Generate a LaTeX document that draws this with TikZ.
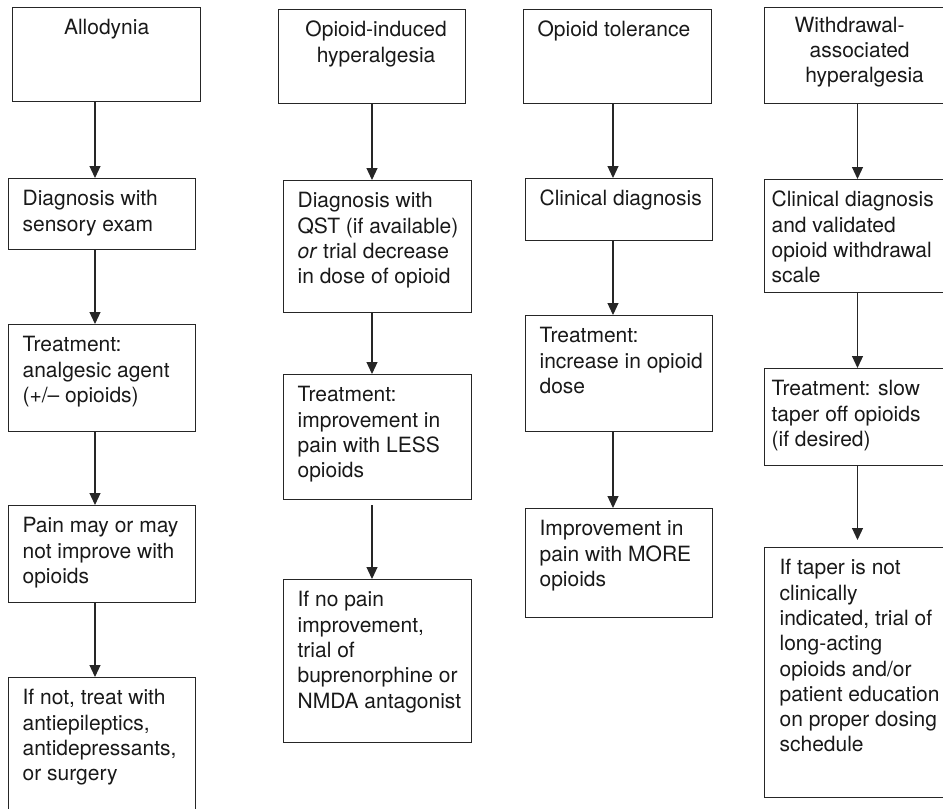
\documentclass[tikz,border=0pt]{standalone}
\usepackage{fontspec}
\setmainfont{TeX Gyre Heros}
\usepackage{tikz}
\usetikzlibrary{arrows.meta}
\usetikzlibrary{calc}
\usepackage{xcolor}
\tikzstyle{stage}=[draw=black!85, line width=1.2pt, anchor=north west, inner xsep=14pt, inner ysep=9.5pt, text=black!90, font=\fontsize{21}{25.3}\selectfont]
\tikzstyle{flow}=[-{Triangle[width=11pt,length=12pt]}, draw=black!85, line width=1.2pt]
% [l or c], width, height, lines
\newcommand{\stagetext}[4][l]{\parbox[t][\dimexpr#3pt-19pt\relax][t]{\dimexpr#2pt-28pt\relax}{\if c#1\centering\fi\begin{tabular}[t]{@{}#1@{}}#4\end{tabular}}}

\begin{document}
\begin{tikzpicture}[x=1pt,y=-1pt]
\useasboundingbox (0,0) rectangle (943,809);
\clip (0,0) rectangle (943,809);
\foreach \n/\x in {a/95,b/372,c/613,d/857.5} {
	\coordinate (\n x) at (\x,0);
}
\node[stage] (a1) at (12,7) {\stagetext[c]{188}{94}{Allodynia}};
\node[stage] (a2) at (8,178) {\stagetext{187}{71}{Diagnosis with\\ sensory exam}};
\node[stage] (a3) at (8,324) {\stagetext{187}{107}{Treatment:\\ analgesic agent\\ (+/\textendash{} opioids)}};
\node[stage] (a4) at (8,505) {\stagetext{187}{97}{Pain may or may\\ not improve with\\ opioids}};
\node[stage] (a5) at (8,677) {\stagetext{187}{160}{If not, treat with\\ antiepileptics,\\ antidepressants,\\ or surgery}};

\node[stage] (b1) at (278,9) {\stagetext[c]{187}{94}{\hspace*{8pt}Opioid-induced\\ \hspace*{8pt}hyperalgesia}};
\node[stage] (b2) at (283,180) {\stagetext{188}{132}{Diagnosis with\\ QST (if available)\\ \emph{or} trial decrease\\ in dose of opioid}};
\node[stage] (b3) at (283,374) {\stagetext{188}{125}{Treatment:\\ improvement in\\ pain with LESS\\ opioids}};
\node[stage] (b4) at (283,579) {\stagetext{188}{163}{If no pain\\ improvement,\\ trial of\\ buprenorphine or\\ NMDA antagonist}};

\node[stage] (c1) at (523,9) {\stagetext{188}{94}{Opioid tolerance}};
\node[stage] (c2) at (525,178) {\stagetext{187}{62}{Clinical diagnosis}};
\node[stage] (c3) at (525,315) {\stagetext{187}{116}{Treatment:\\ increase in opioid\\ dose}};
\node[stage] (c4) at (525,508) {\stagetext{187}{109}{Improvement in\\ pain with MORE\\ opioids}};

\node[stage, inner ysep=7pt] (d1) at (764,7) {\stagetext[c]{200}{101}{\hspace*{-30pt}Withdrawal-\\ \hspace*{-10pt}associated\\ hyperalgesia}};
\node[stage, inner xsep=7pt] (d2) at (764,179) {\stagetext{214}{113}{Clinical diagnosis\\ and validated\\ opioid withdrawal\\ scale}};
\node[stage, inner xsep=7pt] (d3) at (764,368) {\stagetext{214}{97}{Treatment: slow\\ taper off opioids\\ (if desired)}};
\node[stage, inner xsep=15pt] (d4) at (764,547) {\stagetext{200}{250}{If taper is not\\ clinically\\ indicated, trial of\\ long-acting\\ opioids and/or\\ patient education\\ on proper dosing\\ schedule}};

\foreach \u/\v in {a1/a2,a2/a3,a3/a4,a4/a5} {
	\draw[flow] (\u.south -| ax) -- (\v.north -| ax);
}
\draw[flow] (b1.south -| bx) -- (b2.north -| bx);
\draw[flow] (b2.south -| bx) -- (b3.north -| bx);
\draw[flow, shorten <=5pt] (b3.south -| bx) -- (b4.north -| bx);
\foreach \u/\v in {c1/c2,c2/c3,c3/c4} {
	\draw[flow] (\u.south -| cx) -- (\v.north -| cx);
}
\draw[flow] (d1.south -| dx) -- (d2.north -| dx);
\draw[flow] (d2.south -| dx) -- (d3.north -| dx);
\draw[flow, shorten >=7pt] (d3.south -| dx) -- (d4.north -| dx);
\end{tikzpicture}
\end{document}
